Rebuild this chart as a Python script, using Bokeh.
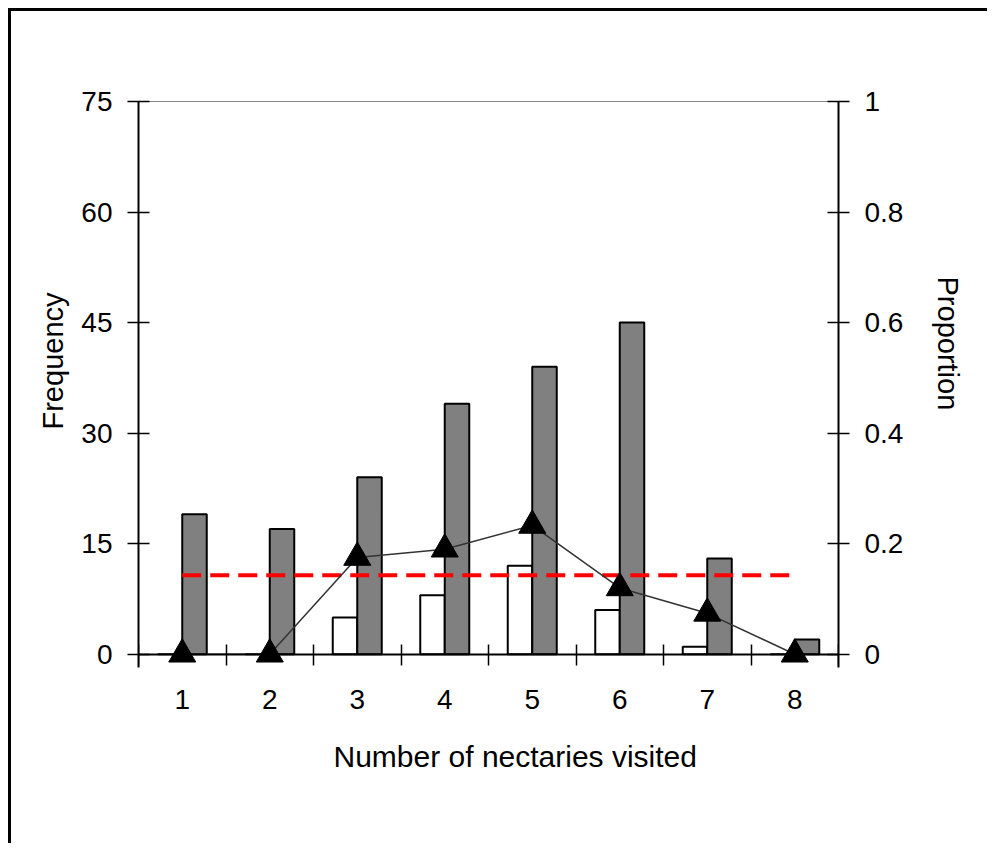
from bokeh.plotting import figure
from bokeh.models import (Range1d, LinearAxis, FixedTicker, CustomJSTickFormatter,
                          ColumnDataSource, Title)
from bokeh.transform import dodge
from bokeh.embed import file_html
from bokeh.resources import INLINE

# ---- data ----
nectaries = [1, 2, 3, 4, 5, 6, 7, 8]
freq_subset = [0, 0, 5, 8, 12, 6, 1, 0]          # white bars
freq_total = [19, 17, 24, 34, 39, 45, 13, 2]     # grey bars
proportion = [0, 0, 0.175, 0.19, 0.233, 0.12, 0.074, 0]
ref_x = [1, 8]
ref_prop = [0.143, 0.143]

freq_ticks = [0, 15, 30, 45, 60, 75]
prop_ticks = [0, 0.2, 0.4, 0.6, 0.8, 1]
x_minor = [0.5, 1.5, 2.5, 3.5, 4.5, 5.5, 6.5, 7.5, 8.5]

FONT = "Liberation Sans"
Y_LO = -1.8   # small room below the zero line so markers at 0 are not cut

src = ColumnDataSource(dict(x=nectaries, sub=freq_subset, tot=freq_total, prop=proportion))

p = figure(width=979, height=835, output_backend="svg", toolbar_location=None,
           x_range=Range1d(0.5, 8.5), y_range=Range1d(Y_LO, 75),
           min_border_left=127, min_border_right=152, min_border_top=90, min_border_bottom=179,
           x_axis_type=None, y_axis_type=None)
p.styles = {"border-left": "3px solid black", "border-top": "3px solid black",
            "margin-left": "8px", "margin-top": "8px"}
p.extra_y_ranges = {"prop": Range1d(Y_LO / 75, 1)}
p.xgrid.visible = False
p.ygrid.visible = False
p.outline_line_color = None
p.background_fill_color = "white"
p.border_fill_color = "white"

# top frame line
tax = LinearAxis(ticker=FixedTicker(ticks=[], minor_ticks=[]))
tax.axis_line_color = "#888888"
tax.axis_line_width = 1
tax.major_label_text_font_size = "0px"
tax.major_tick_line_color = None
tax.minor_tick_line_color = None
p.add_layout(tax, "above")

# x axis line at zero with category boundary ticks crossing it
xline = LinearAxis(ticker=FixedTicker(ticks=[], minor_ticks=x_minor), fixed_location=0)
xline.axis_line_color = "black"
xline.axis_line_width = 2
xline.major_tick_line_color = None
xline.major_label_text_font_size = "0px"
xline.minor_tick_in = 11
xline.minor_tick_out = 10
xline.minor_tick_line_width = 1.5
xline.minor_tick_line_color = "black"
p.add_layout(xline, "above")

# x category labels
xlab = LinearAxis(ticker=FixedTicker(ticks=nectaries, minor_ticks=[]))
xlab.axis_line_color = None
xlab.major_tick_line_color = None
xlab.minor_tick_line_color = None
xlab.major_tick_in = 0
xlab.major_tick_out = 0
xlab.major_label_standoff = 22
p.add_layout(xlab, "below")

yax = LinearAxis(ticker=FixedTicker(ticks=freq_ticks, minor_ticks=[]))
p.add_layout(yax, "left")

rax = LinearAxis(y_range_name="prop", ticker=FixedTicker(ticks=prop_ticks, minor_ticks=[]),
                 formatter=CustomJSTickFormatter(code="return String(tick)"))
p.add_layout(rax, "right")

for ax in (xlab, yax, rax):
    ax.major_label_text_font = FONT
    ax.major_label_text_font_size = "28px"
    ax.major_label_text_color = "black"
for ax in (yax, rax):
    ax.axis_line_color = "black"
    ax.axis_line_width = 2
    ax.major_tick_in = 11
    ax.major_tick_out = 11
    ax.major_tick_line_width = 1.5
    ax.major_tick_line_color = "black"
    ax.major_label_standoff = 15
    ax.minor_tick_line_color = None

# bars
p.vbar(x=dodge("x", -0.14, range=p.x_range), top="sub", width=0.28, bottom=0, source=src,
       fill_color="white", line_color="black", line_width=2)
p.vbar(x=dodge("x", 0.14, range=p.x_range), top="tot", width=0.28, bottom=0, source=src,
       fill_color="#808080", line_color="black", line_width=2)

# reference dashed line
p.line(ref_x, ref_prop, y_range_name="prop", line_color="#ff0000", line_width=4, line_dash="19 9")

# proportion line + triangles
p.line("x", "prop", source=src, y_range_name="prop", line_color="#333333", line_width=1.5)
p.scatter("x", "prop", source=src, y_range_name="prop", marker="triangle", size=27,
          fill_color="black", line_color="black")

# axis titles
def title(text, offset, standoff, size="29px"):
    return Title(text=text, align="left", offset=offset, standoff=standoff, text_font=FONT,
                 text_font_size=size, text_font_style="normal", text_color="black")

p.add_layout(title("Number of nectaries visited", 195, 52, "30px"), "below")
p.add_layout(title("Frequency", 238, 20), "left")
p.add_layout(title("Proportion", 175, 50), "right")

open("out.html", "w").write(file_html(p, INLINE))
